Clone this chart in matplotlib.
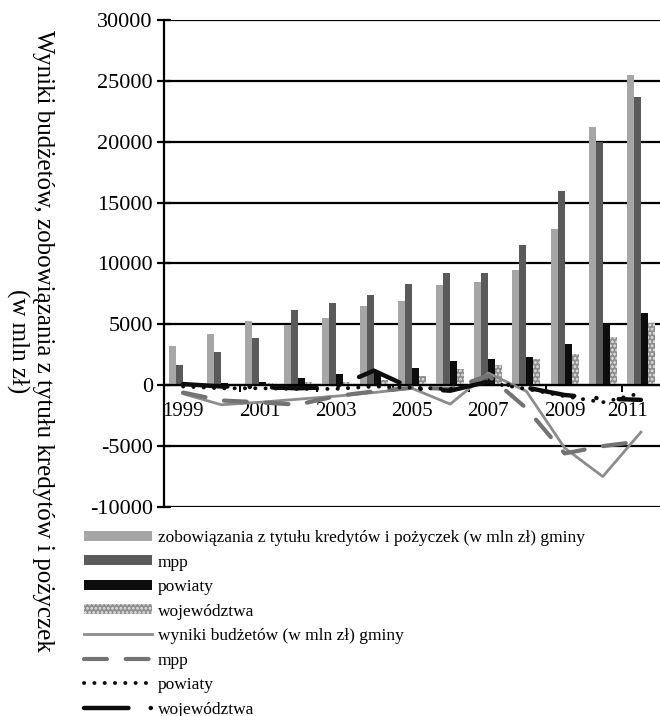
import numpy as np
import matplotlib.pyplot as plt
import matplotlib.transforms as mtransforms

plt.rcParams['font.family'] = ['Liberation Serif', 'DejaVu Serif']
plt.rcParams['axes.unicode_minus'] = False
plt.rcParams['hatch.linewidth'] = 1.3

# data (mln zl)
years = ['1999', '2000', '2001', '2002', '2003', '2004', '2005',
         '2006', '2007', '2008', '2009', '2010', '2011']
debt_gminy = [3200, 4250, 5250, 4950, 5550, 6550, 6950, 8200, 8450, 9500, 12850, 21200, 25500]
debt_mpp = [1700, 2700, 3850, 6200, 6750, 7400, 8350, 9200, 9200, 11550, 15950, 19950, 23700]
debt_powiaty = [100, 150, 300, 600, 900, 1100, 1400, 2000, 2150, 2300, 3350, 5150, 5900]
debt_woj = [50, 80, 150, 250, 300, 400, 750, 1300, 1650, 2150, 2550, 3950, 5150]

res_gminy = [-700, -1600, -1400, -1150, -900, -600, -250, -1550, 1000, -500, -5150, -7500, -3850]
res_mpp = [-600, -1250, -1400, -1600, -900, -500, -200, -300, 800, -1900, -5600, -5000, -4600]
res_powiaty = [-100, -250, -250, -300, -300, -100, -200, -300, 200, -300, -900, -1400, -650]
res_woj = [100, -100, -150, -250, -150, 1200, -250, -450, 300, -200, -800, -1100, -1200]

labels = ['zobowiązania z tytułu kredytów i pożyczek (w mln zł) gminy', 'mpp', 'powiaty',
          'województwa', 'wyniki budżetów (w mln zł) gminy', 'mpp', 'powiaty', 'województwa']

x = np.arange(len(years))
w = 0.183

fig = plt.figure(figsize=(6.6, 7.16), dpi=100)
ax = fig.add_axes([164 / 660, 1 - 507 / 716, 1 - 164 / 660, (507 - 20) / 716])

# bars
b1 = ax.bar(x - 1.5 * w, debt_gminy, w, color='#a6a6a6', zorder=2)
b2 = ax.bar(x - 0.5 * w, debt_mpp, w, color='#5a5a5a', zorder=2)
b3 = ax.bar(x + 0.5 * w, debt_powiaty, w, color='#0d0d0d', zorder=2)
b4 = ax.bar(x + 1.5 * w, debt_woj, w, color='#8e8e8e', hatch='....', edgecolor='#e6e6e6',
            linewidth=0, zorder=2)

# lines
l1, = ax.plot(x, res_gminy, color='#8c8c8c', lw=2.0, zorder=3)
l2, = ax.plot(x, res_mpp, color='#737373', lw=3.0, linestyle=(0, (5.5, 4.5)),
              dash_capstyle='round', zorder=3)
l3, = ax.plot(x, res_powiaty, color='#0d0d0d', lw=2.8, linestyle=(0, (0.05, 2.6)),
              dash_capstyle='round', zorder=4)
l4, = ax.plot(x, res_woj, color='#0d0d0d', lw=3.2, linestyle=(0, (10, 5, 0.05, 5)),
              dash_capstyle='round', zorder=4)

ax.set_xlim(-0.5, len(years) - 0.5)
ax.set_ylim(-10000, 30000)
ax.set_yticks(np.arange(-10000, 30001, 5000))
ax.yaxis.grid(True, color='black', lw=1.6, zorder=0)
ax.set_axisbelow(True)

for s in ['top', 'right']:
    ax.spines[s].set_visible(False)
ax.spines['left'].set_linewidth(1.6)
ax.spines['bottom'].set_position(('data', 0))
ax.spines['bottom'].set_linewidth(1.6)

ax.set_xticks(x[::2])
ax.set_xticklabels(years[::2])
ax.set_xticks(np.arange(-0.5, len(years), 2), minor=True)
ax.tick_params(axis='x', which='major', length=0, pad=12, labelsize=15)
ax.tick_params(axis='x', which='minor', length=5, width=1.4, direction='out')
ax.tick_params(axis='y', direction='inout', length=10, width=1.6, pad=3, labelsize=16)

# last label pushed left, like the original
last = ax.get_xticklabels()[-1]
last.set_horizontalalignment('right')
last.set_transform(last.get_transform() + mtransforms.ScaledTranslation(0.07, 0, fig.dpi_scale_trans))

fig.text(30 / 660, 1 - 341 / 716,
         'Wyniki budżetów, zobowiązania z tytułu kredytów i pożyczek\n(w mln zł)',
         rotation=270, ha='center', va='center', multialignment='center',
         fontsize=18, linespacing=1.15)

handles = [b1, b2, b3, b4, l1, l2, l3, l4]
fig.legend(handles, labels, loc='upper left', bbox_to_anchor=(84 / 660, 1 - 530 / 716),
           frameon=False, fontsize=12.5, handlelength=3.9, handleheight=0.5,
           handletextpad=0.35, labelspacing=0.49, borderpad=0, borderaxespad=0)

fig.savefig('out.png', dpi=100)
